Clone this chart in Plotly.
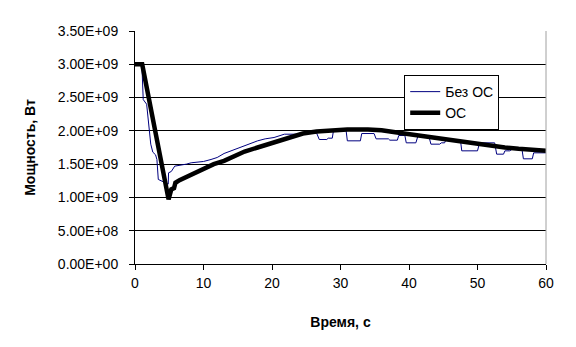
import plotly.graph_objects as go

# Без ОС (without feedback), time in s, power in W
t_bez = [0, 1.0, 1.2, 1.7, 2.3, 2.6, 3.0, 3.2, 3.4, 4.4, 4.85, 4.9, 5.3, 5.8, 6.6, 7.5, 8.2,
         10, 11.1, 12, 13, 14, 15.5, 17, 17.9, 19, 20.3, 21.8, 23.5, 23.8, 24.3, 24.6, 26.5,
         26.9, 28.0, 28.2, 28.8, 29.0, 30.8, 31.0, 32.9, 33.1, 34.9, 35.2, 37.0, 37.2, 38.3,
         38.5, 39.4, 39.6, 41.0, 41.3, 42.9, 43.2, 44.5, 44.7, 45.2, 45.4, 47.5, 47.7, 50.0,
         50.3, 52.5, 52.8, 53.8, 54.0, 54.7, 55.0, 56.5, 56.7, 58.0, 58.2, 60]
p_bez = [3.00, 3.00, 2.47, 2.40, 1.80, 1.68, 1.64, 1.57, 1.27, 1.22, 1.20, 1.37, 1.39, 1.47, 1.48,
         1.50, 1.52, 1.54, 1.57, 1.60, 1.66, 1.70, 1.76, 1.82, 1.85, 1.88, 1.90, 1.95, 1.95,
         1.93, 1.93, 1.97, 1.97, 1.87, 1.87, 1.89, 1.89, 2.02, 2.02, 1.85, 1.85, 1.96, 1.96,
         1.88, 1.88, 1.86, 1.86, 1.93, 1.93, 1.82, 1.82, 1.92, 1.92, 1.80, 1.80, 1.82, 1.82,
         1.87, 1.87, 1.70, 1.70, 1.82, 1.82, 1.65, 1.65, 1.70, 1.70, 1.72, 1.72, 1.58, 1.58,
         1.67, 1.67]
p_bez = [v * 1e9 for v in p_bez]

# ОС (with feedback)
t_os = [0, 1.05, 4.9, 5.3, 5.7, 5.9, 6.5, 7.5, 8.5, 10, 11.5, 13, 14.5, 16, 17.9, 20, 22.7,
        24.5, 26.5, 28.5, 31, 34, 36, 38, 40, 42, 44, 46, 48, 50, 52, 54, 56, 58, 60]
p_os = [3.00, 3.00, 0.97, 1.12, 1.14, 1.22, 1.26, 1.31, 1.36, 1.44, 1.50, 1.55, 1.62, 1.69,
        1.75, 1.82, 1.90, 1.96, 1.99, 2.01, 2.02, 2.02, 2.01, 1.98, 1.95, 1.92, 1.90, 1.87,
        1.84, 1.80, 1.77, 1.75, 1.73, 1.71, 1.70]
p_os = [v * 1e9 for v in p_os]

y_tickvals = [0, 0.5e9, 1.0e9, 1.5e9, 2.0e9, 2.5e9, 3.0e9, 3.5e9]
y_ticktext = ["0.00E+00", "5.00E+08", "1.00E+09", "1.50E+09", "2.00E+09", "2.50E+09",
              "3.00E+09", "3.50E+09"]
x_tickvals = [0, 10, 20, 30, 40, 50, 60]

FONT = "Liberation Sans, Arial, sans-serif"

fig = go.Figure()
fig.add_trace(go.Scatter(x=t_bez, y=p_bez, mode="lines", name="Без ОС",
                         line=dict(color="#000080", width=1)))
fig.add_trace(go.Scatter(x=t_os, y=p_os, mode="lines", name="ОС",
                         line=dict(color="black", width=4.5)))

fig.update_layout(
    width=576, height=347,
    margin=dict(l=127, r=38, t=23, b=91),
    paper_bgcolor="white", plot_bgcolor="white",
    font=dict(family=FONT, size=14, color="black"),
    showlegend=True,
    legend=dict(x=0.655, y=0.811, xanchor="left", yanchor="top",
                bordercolor="black", borderwidth=1, bgcolor="white",
                font=dict(size=14), tracegroupgap=0, itemwidth=30),
    xaxis=dict(range=[0, 60], tickvals=x_tickvals, showgrid=False, zeroline=False,
               showline=True, linecolor="black", linewidth=1, automargin=False,
               ticks="outside", ticklen=5, tickcolor="black", ticklabelstandoff=1,
               title=dict(text="<b>Время, с</b>", standoff=27, font=dict(size=14))),
    yaxis=dict(range=[0, 3.5e9], tickvals=y_tickvals, ticktext=y_ticktext,
               showgrid=True, gridcolor="black", gridwidth=1, zeroline=False,
               showline=True, linecolor="black", linewidth=1, automargin=False,
               ticks="outside", ticklen=5, tickcolor="black", ticklabelstandoff=8,
               title=dict(text="<b>Мощность, Вт</b>", standoff=18, font=dict(size=14))),
)
fig.add_shape(type="line", xref="paper", yref="paper", x0=1, x1=1, y0=0, y1=1,
              line=dict(color="#a0a0a0", width=1))

fig.write_html("out.html")
